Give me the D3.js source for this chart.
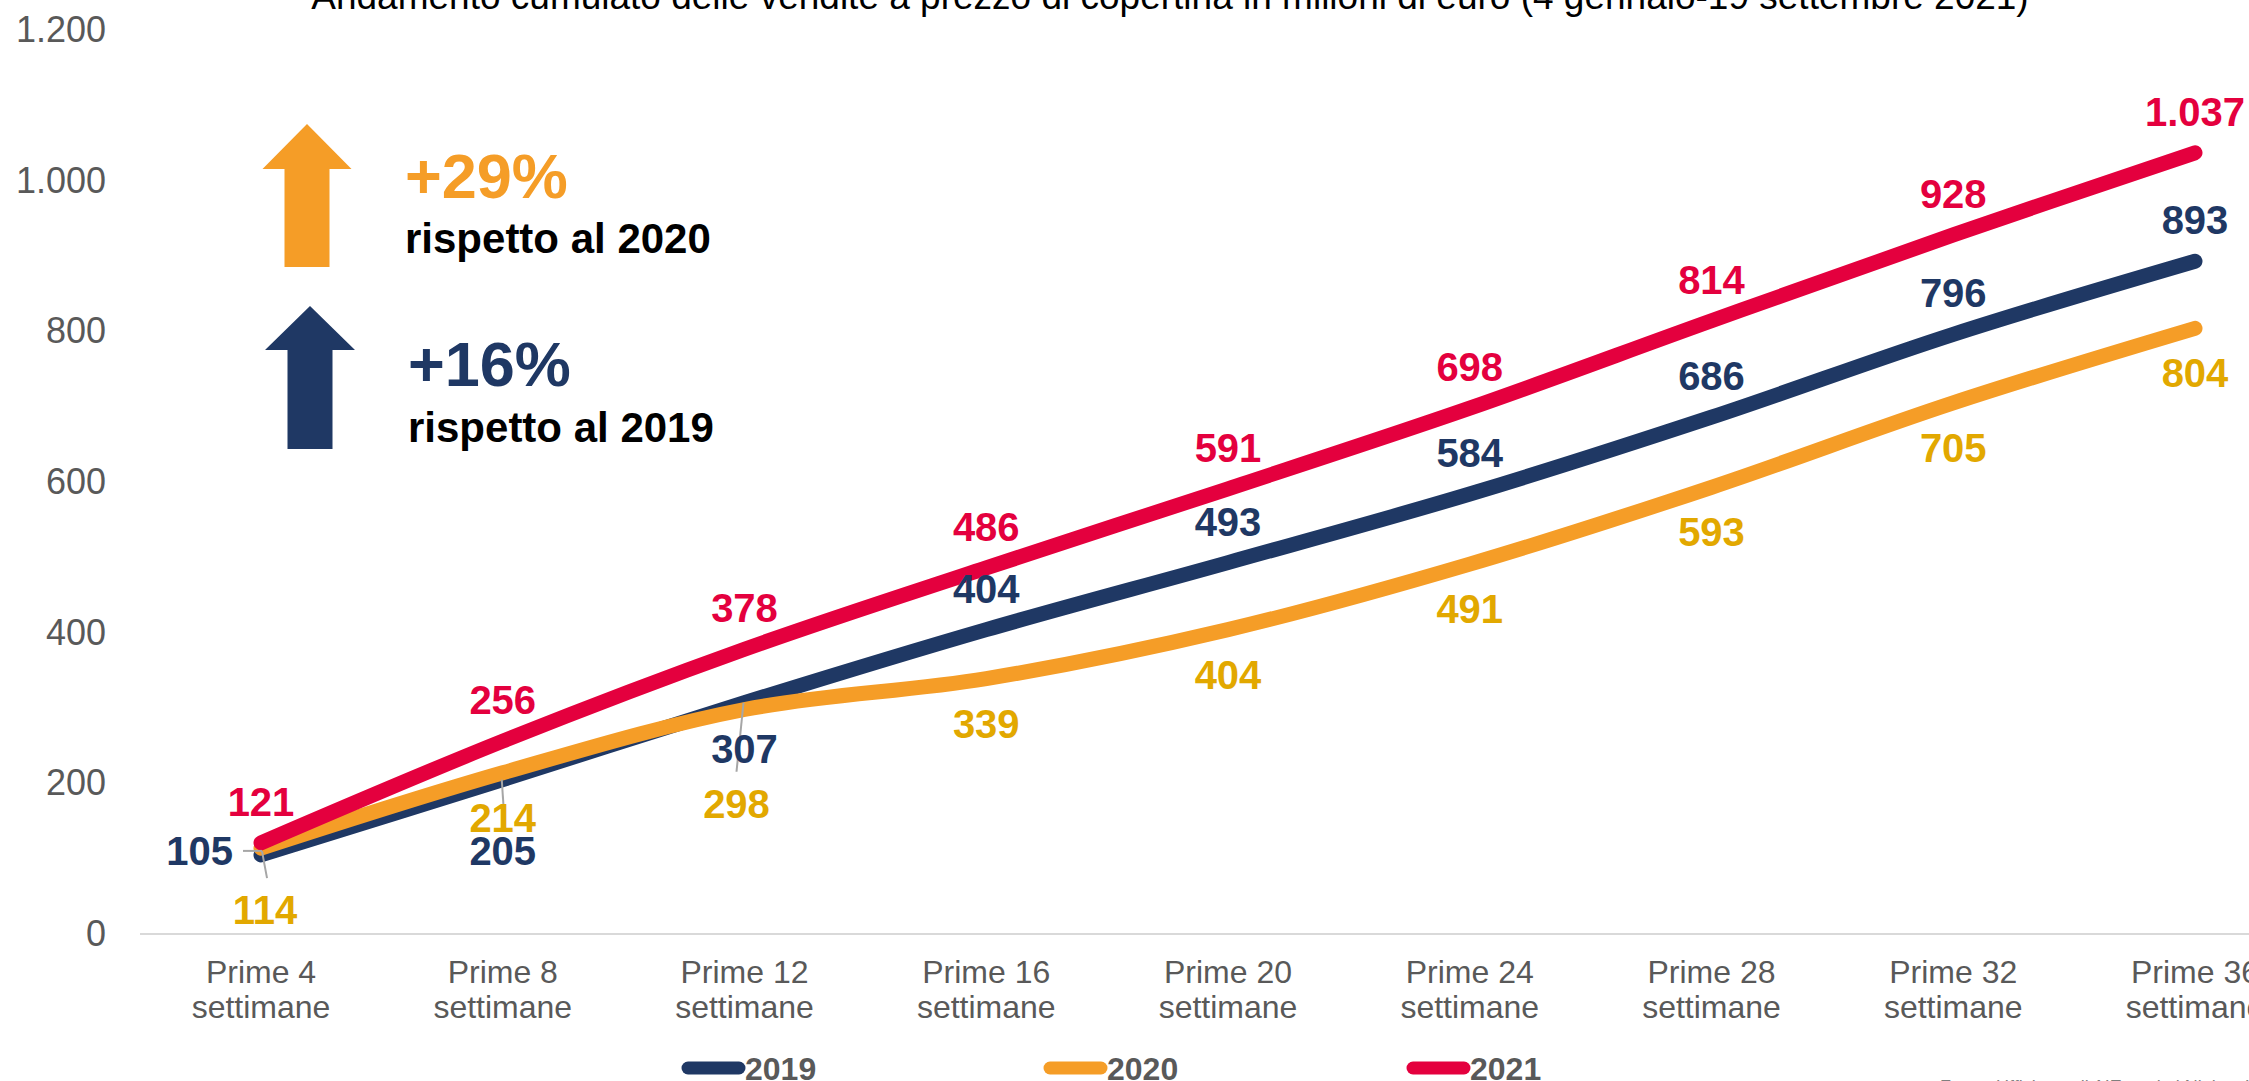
<!DOCTYPE html>
<html>
<head>
<meta charset="utf-8">
<script src="https://cdn.jsdelivr.net/npm/d3@7"></script>
<style>
  html, body { margin: 0; padding: 0; background: #fff; overflow: hidden; }
  svg { display: block; font-family: Arial, "Liberation Sans", sans-serif; }
</style>
</head>
<body>
<div id="chart"></div>
<script>
// data
var categories = ["Prime 4 settimane", "Prime 8 settimane", "Prime 12 settimane", "Prime 16 settimane",
                  "Prime 20 settimane", "Prime 24 settimane", "Prime 28 settimane", "Prime 32 settimane",
                  "Prime 36 settimane"];
var values2019 = [105, 205, 307, 404, 493, 584, 686, 796, 893];
var values2020 = [114, 214, 298, 339, 404, 491, 593, 705, 804];
var values2021 = [121, 256, 378, 486, 591, 698, 814, 928, 1037];
var seriesNames = ["2019", "2020", "2021"];
var yTicks = [0, 200, 400, 600, 800, 1000, 1200];
var titleText = "Andamento cumulato delle vendite a prezzo di copertina in milioni di euro (4 gennaio-19 settembre 2021)";

var W = 2249, H = 1081;
var lineColors = {"2019": "#1f3864", "2020": "#f59d27", "2021": "#e4003e"};
var labelColors = {"2019": "#1f3864", "2020": "#e2a800", "2021": "#e4003e"};

var itLocale = d3.formatLocale({decimal: ",", thousands: ".", grouping: [3], currency: ["€", ""]});
var fmt = itLocale.format(",d");

var svg = d3.select("#chart").append("svg").attr("width", W).attr("height", H);

var x = d3.scalePoint().domain(categories).range([261, 2195]);
var y = d3.scaleLinear().domain([0, 1200]).range([934, 30]);

// title (cut at the top in the original)
svg.append("text")
  .attr("x", 1170).attr("y", 9)
  .attr("text-anchor", "middle")
  .style("font-size", "37px").attr("fill", "#000")
  .text(titleText);

// baseline
svg.append("line")
  .attr("x1", 140).attr("x2", W + 10)
  .attr("y1", y(0)).attr("y2", y(0))
  .attr("stroke", "#d9d9d9").attr("stroke-width", 2);

// y axis
var yAxis = svg.append("g")
  .attr("transform", "translate(106,0)")
  .call(d3.axisLeft(y).tickValues(yTicks).tickFormat(fmt).tickSize(0).tickPadding(0));
yAxis.select(".domain").remove();
yAxis.selectAll("text")
  .attr("fill", "#595959")
  .style("font-size", "36px")
  .style("font-family", "Arial, 'Liberation Sans', sans-serif");

// x labels, two lines
var xl = svg.append("g").selectAll("text")
  .data(categories)
  .enter().append("text")
    .attr("text-anchor", "middle")
    .attr("fill", "#595959")
    .style("font-size", "32px");
xl.append("tspan")
  .attr("x", function(d) { return x(d); }).attr("y", 983)
  .text(function(d) { return d.split(" ").slice(0, 2).join(" "); });
xl.append("tspan")
  .attr("x", function(d) { return x(d); }).attr("y", 1018)
  .text(function(d) { return d.split(" ").slice(2).join(" "); });

// lines
var series = [
  {name: "2019", values: values2019},
  {name: "2020", values: values2020},
  {name: "2021", values: values2021}
];
var line = d3.line()
  .x(function(d, i) { return x(categories[i]); })
  .y(function(d) { return y(d); })
  .curve(d3.curveCatmullRom.alpha(0.5));

svg.append("g").selectAll("path")
  .data(series)
  .enter().append("path")
    .attr("d", function(s) { return line(s.values); })
    .attr("fill", "none")
    .attr("stroke", function(s) { return lineColors[s.name]; })
    .attr("stroke-width", 15)
    .attr("stroke-linecap", "round")
    .attr("stroke-linejoin", "round");

// leader lines for crowded labels
var leaders = [
  {s: 0, i: 0, x1: -18, y1: -4, x2: 1, y2: -4},
  {s: 1, i: 0, x1: 1, y1: 3, x2: 6, y2: 30},
  {s: 0, i: 1, x1: -1, y1: 0, x2: 2, y2: 45},
  {s: 0, i: 2, x1: -1, y1: 0, x2: -8, y2: 69}
];
svg.append("g").selectAll("line")
  .data(leaders)
  .enter().append("line")
    .attr("x1", function(d) { return x(categories[d.i]) + d.x1; })
    .attr("x2", function(d) { return x(categories[d.i]) + d.x2; })
    .attr("y1", function(d) { return y(series[d.s].values[d.i]) + d.y1; })
    .attr("y2", function(d) { return y(series[d.s].values[d.i]) + d.y2; })
    .attr("stroke", "#a6a6a6").attr("stroke-width", 2);

// data labels
function labelPos(name, i) {
  // default: 2021 and 2019 above, 2020 below
  var p = {dx: 0, dy: -27, anchor: "middle"};
  if (name === "2020") p.dy = 59;
  if (name === "2019" && i === 0) p = {dx: -28, dy: 10, anchor: "end"};
  if (name === "2019" && i === 1) p.dy = 85;
  if (name === "2019" && i === 2) p.dy = 60;
  if (name === "2020" && i === 0) p = {dx: 4, dy: 76, anchor: "middle"};
  if (name === "2020" && i === 2) p = {dx: -8, dy: 108, anchor: "middle"};
  return p;
}
series.forEach(function(s) {
  svg.append("g").selectAll("text")
    .data(s.values)
    .enter().append("text")
      .attr("x", function(d, i) { return x(categories[i]) + labelPos(s.name, i).dx; })
      .attr("y", function(d, i) { return y(d) + labelPos(s.name, i).dy; })
      .attr("text-anchor", function(d, i) { return labelPos(s.name, i).anchor; })
      .attr("fill", labelColors[s.name])
      .style("font-size", "40px")
      .style("font-weight", "bold")
      .text(function(d) { return fmt(d); });
});

// arrows with growth notes
function arrow(tipX, tipY, headW, headH, shaftW, bottom, color) {
  var pts = [
    [tipX, tipY], [tipX + headW / 2, tipY + headH], [tipX + shaftW / 2, tipY + headH],
    [tipX + shaftW / 2, bottom], [tipX - shaftW / 2, bottom], [tipX - shaftW / 2, tipY + headH],
    [tipX - headW / 2, tipY + headH]
  ];
  svg.append("polygon").attr("points", pts.map(function(p) { return p.join(","); }).join(" ")).attr("fill", color);
}
arrow(307, 124, 89, 45, 45, 267, lineColors["2020"]);
arrow(310, 306, 90, 44, 45, 449, lineColors["2019"]);

svg.append("text").attr("x", 405).attr("y", 198)
  .attr("fill", lineColors["2020"]).style("font-size", "63px").style("font-weight", "bold").text("+29%");
svg.append("text").attr("x", 405).attr("y", 253)
  .attr("fill", "#000").style("font-size", "42px").style("font-weight", "bold").text("rispetto al 2020");
svg.append("text").attr("x", 408).attr("y", 386)
  .attr("fill", lineColors["2019"]).style("font-size", "63px").style("font-weight", "bold").text("+16%");
svg.append("text").attr("x", 408).attr("y", 442)
  .attr("fill", "#000").style("font-size", "42px").style("font-weight", "bold").text("rispetto al 2019");

// legend
var legendX = [688, 1050, 1413];
var lg = svg.append("g").selectAll("g")
  .data(seriesNames)
  .enter().append("g")
    .attr("transform", function(d, i) { return "translate(" + legendX[i] + ",1068)"; });
lg.append("line")
  .attr("x1", 0).attr("x2", 51).attr("y1", 0).attr("y2", 0)
  .attr("stroke", function(d) { return lineColors[d]; })
  .attr("stroke-width", 13).attr("stroke-linecap", "round");
lg.append("text")
  .attr("x", 57).attr("y", 12)
  .attr("fill", "#595959").style("font-size", "32px").style("font-weight", "bold")
  .text(function(d) { return d; });

// source note, mostly below the frame
svg.append("text").attr("x", 1940).attr("y", 1093)
  .attr("fill", "#7f7f7f").style("font-size", "18px")
  .text("Fonte: Ufficio studi AIE su dati NielsenIQ");
</script>
</body>
</html>
